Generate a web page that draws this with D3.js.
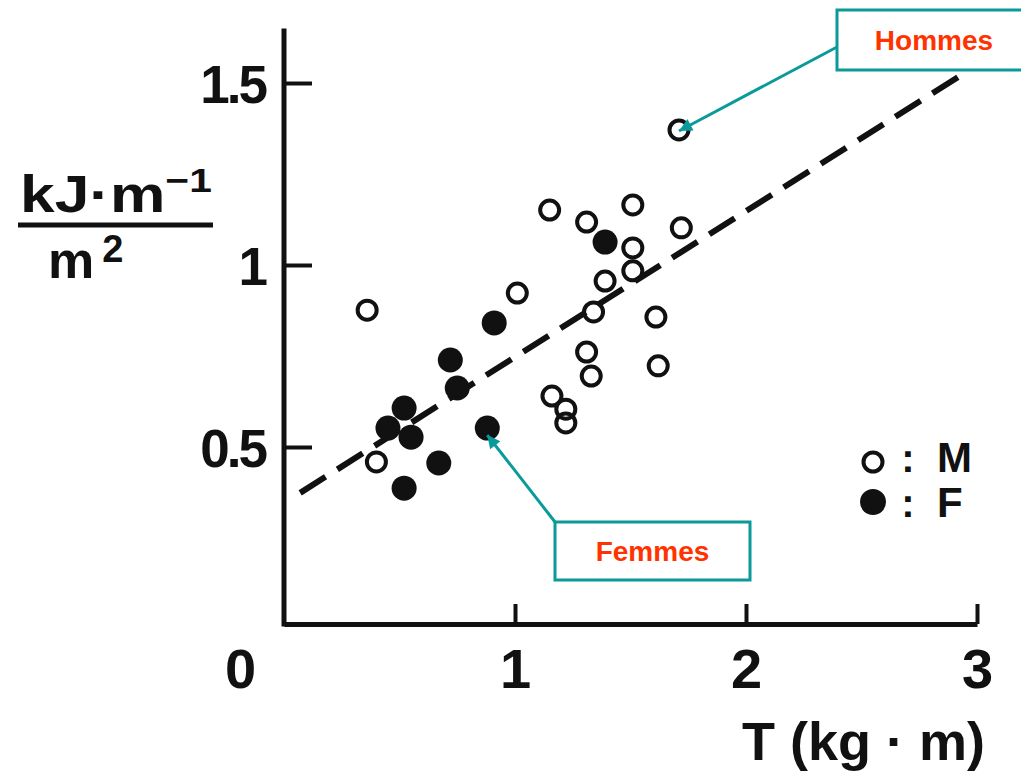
<!DOCTYPE html>
<html>
<head>
<meta charset="utf-8">
<script src="https://cdn.jsdelivr.net/npm/d3@7"></script>
<style>
  body { margin: 0; background: #fff; }
  svg { display: block; }
  text { font-family: "Liberation Sans", Arial, sans-serif; font-weight: bold; }
</style>
</head>
<body>
<svg id="chart"></svg>
<script>
// hommes (open circles)
const maleT = [0.36, 0.40, 1.01, 1.15, 1.31, 1.51, 1.72, 1.71, 1.51, 1.51, 1.39, 1.34, 1.61, 1.31, 1.33, 1.62, 1.16, 1.22, 1.22];
const maleE = [0.876, 0.459, 0.923, 1.151, 1.118, 1.165, 1.102, 1.371, 1.047, 0.984, 0.956, 0.871, 0.857, 0.761, 0.695, 0.723, 0.640, 0.604, 0.566];

// femmes (filled dots)
const femaleT = [1.39, 0.91, 0.72, 0.75, 0.52, 0.45, 0.55, 0.88, 0.67, 0.52];
const femaleE = [1.063, 0.841, 0.739, 0.662, 0.607, 0.552, 0.527, 0.552, 0.456, 0.387];

// dashed regression line, two end points
const fitT = [0.07, 2.92];
const fitE = [0.374, 1.517];

const xTicks = [0, 1, 2, 3];
const yTicks = [0.5, 1, 1.5];

const width = 1021;
const height = 772;
const ink = "#111";
const teal = "#0a9a9a";
const red = "#ff3300";

const svg = d3.select("#chart").attr("width", width).attr("height", height);

const x = d3.scaleLinear().domain([0, 3]).range([284, 977]);
const y = d3.scaleLinear().domain([0, 1.65]).range([629, 28.4]);
const axisY = 624;

/**********
 * AXES   *
 **********/

const xAxis = svg.append("g")
    .attr("transform", "translate(0," + axisY + ")")
    .call(d3.axisBottom(x).tickValues(xTicks).tickSize(-20).tickSizeOuter(0).tickPadding(24).tickFormat(d => d));

xAxis.select(".domain").attr("stroke", ink).attr("stroke-width", 5);
xAxis.selectAll(".tick line").attr("stroke", ink).attr("stroke-width", 4)
    .filter(d => d === 0).remove();
xAxis.selectAll(".tick text")
    .attr("fill", ink)
    .style("font-size", "56px")
    .attr("x", d => d === 0 ? -44 : 0);

const yAxis = svg.append("g")
    .attr("transform", "translate(" + x(0) + ",0)")
    .call(d3.axisLeft(y).tickValues(yTicks).tickSize(-28).tickSizeOuter(0).tickPadding(19).tickFormat(d => d));

yAxis.select(".domain").remove();
yAxis.selectAll(".tick line").attr("stroke", ink).attr("stroke-width", 4);
yAxis.selectAll(".tick text")
    .attr("fill", ink)
    .attr("dy", "0.37em")
    .style("font-size", "53px")
    .style("letter-spacing", "-3px");

svg.append("line")
    .attr("x1", x(0)).attr("x2", x(0))
    .attr("y1", y(1.65)).attr("y2", axisY + 2.5)
    .attr("stroke", ink).attr("stroke-width", 5);

// axis titles
const num = svg.append("text")
    .attr("x", 20).attr("y", 212)
    .attr("fill", ink)
    .style("font-size", "52px")
    .attr("textLength", 192)
    .attr("lengthAdjust", "spacingAndGlyphs");
num.append("tspan").text("kJ·m");
num.append("tspan").attr("dy", -20).style("font-size", "34px").text("−1");

svg.append("line")
    .attr("x1", 18).attr("x2", 213)
    .attr("y1", 225).attr("y2", 225)
    .attr("stroke", ink).attr("stroke-width", 5);

const den = svg.append("text")
    .attr("x", 48).attr("y", 278)
    .attr("fill", ink)
    .style("font-size", "52px");
den.append("tspan").text("m");
den.append("tspan").attr("dx", 8).attr("dy", -16).style("font-size", "38px").text("2");

svg.append("text")
    .attr("x", 985).attr("y", 760)
    .attr("text-anchor", "end")
    .attr("fill", ink)
    .style("font-size", "54px")
    .text("T (kg · m)");

/**********
 * MARKS  *
 **********/

svg.append("line")
    .attr("x1", x(fitT[0])).attr("y1", y(fitE[0]))
    .attr("x2", x(fitT[1])).attr("y2", y(fitE[1]))
    .attr("stroke", ink)
    .attr("stroke-width", 6)
    .attr("stroke-dasharray", "30,14");

const males = maleT.map((t, i) => ({ t: t, e: maleE[i] }));
const females = femaleT.map((t, i) => ({ t: t, e: femaleE[i] }));

svg.append("g").selectAll("circle")
    .data(males)
    .enter()
    .append("circle")
    .attr("cx", d => x(d.t))
    .attr("cy", d => y(d.e))
    .attr("r", 9.5)
    .attr("fill", "none")
    .attr("stroke", ink)
    .attr("stroke-width", 4);

svg.append("g").selectAll("circle")
    .data(females)
    .enter()
    .append("circle")
    .attr("cx", d => x(d.t))
    .attr("cy", d => y(d.e))
    .attr("r", 12.5)
    .attr("fill", ink);

/**********
 * LEGEND *
 **********/

svg.append("circle").attr("cx", 873).attr("cy", 462).attr("r", 9.5)
    .attr("fill", "none").attr("stroke", ink).attr("stroke-width", 4);
svg.append("circle").attr("cx", 873).attr("cy", 502).attr("r", 13).attr("fill", ink);

[["M", 472], ["F", 517]].forEach(function(row) {
    svg.append("text").attr("x", 908).attr("y", row[1]).attr("text-anchor", "middle")
        .attr("fill", ink).style("font-size", "40px").text(":");
    svg.append("text").attr("x", 937).attr("y", row[1])
        .attr("fill", ink).style("font-size", "42px").text(row[0]);
});

/***************
 * ANNOTATIONS *
 ***************/

svg.append("defs").append("marker")
    .attr("id", "arrow")
    .attr("viewBox", "0 0 10 10")
    .attr("refX", 10).attr("refY", 5)
    .attr("markerUnits", "userSpaceOnUse")
    .attr("markerWidth", 17).attr("markerHeight", 13)
    .attr("orient", "auto")
    .append("path")
    .attr("d", "M0,0 L10,5 L0,10 z")
    .attr("fill", teal);

function callout(label, box, target, offsetY)
{
    svg.append("line")
        .attr("x1", box.ax).attr("y1", box.ay)
        .attr("x2", x(target.t)).attr("y2", y(target.e) + offsetY)
        .attr("stroke", teal).attr("stroke-width", 3)
        .attr("marker-end", "url(#arrow)");
    svg.append("rect")
        .attr("x", box.x).attr("y", box.y)
        .attr("width", box.w).attr("height", box.h)
        .attr("fill", "#fff")
        .attr("stroke", teal).attr("stroke-width", 3);
    svg.append("text")
        .attr("x", box.x + box.w / 2).attr("y", box.y + box.h / 2)
        .attr("dy", "0.36em")
        .attr("text-anchor", "middle")
        .attr("fill", red)
        .style("font-size", "28px")
        .text(label);
}

callout("Hommes", { x: 837, y: 10, w: 194, h: 60, ax: 837, ay: 47 }, males[7], 1);
callout("Femmes", { x: 555, y: 522, w: 195, h: 58, ax: 555, ay: 522 }, females[7], 7);
</script>
</body>
</html>
